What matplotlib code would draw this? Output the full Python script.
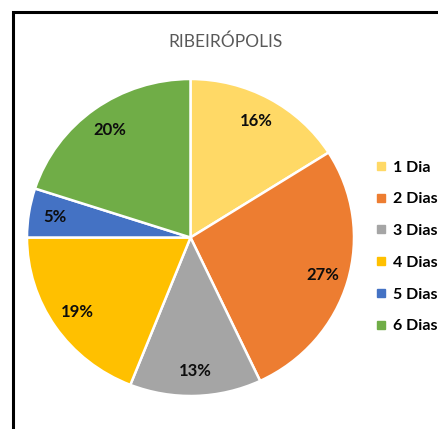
import matplotlib
matplotlib.use("Agg")
import matplotlib.pyplot as plt
from matplotlib.lines import Line2D
from matplotlib.patches import Rectangle

plt.rcParams['font.family'] = ['Lato', 'DejaVu Sans']

title = "RIBEIRÓPOLIS"
labels = ["1 Dia", "2 Dias", "3 Dias", "4 Dias", "5 Dias", "6 Dias"]
values = [16, 27, 13, 19, 5, 20]
colors = ["#FFD966", "#ED7D31", "#A5A5A5", "#FFC000", "#4472C4", "#70AD47"]

W, H = 438, 429
fig = plt.figure(figsize=(W / 100, H / 100), dpi=100)

# frame (only top and left edges visible, the rest is cut off)
fig.patches.append(Rectangle((12.5 / W, -0.1), 1.2, 1 - 12.5 / H + 0.1,
                             transform=fig.transFigure, fill=False,
                             edgecolor="black", linewidth=2.2))

# pie is slightly squashed in the source image
cx, cy, rx, ry = 190.5, 237.5, 163.5, 158.5
ax = fig.add_axes([(cx - rx) / W, (H - cy - ry) / H, 2 * rx / W, 2 * ry / H])
wedges, texts, autotexts = ax.pie(
    values, colors=colors, startangle=90, counterclock=False,
    autopct="%d%%", pctdistance=0.84,
    wedgeprops=dict(edgecolor="white", linewidth=1.8),
    textprops=dict(fontsize=12, fontweight="bold", color="#0d0d0d"))
ax.set_xlim(-1, 1)
ax.set_ylim(-1, 1)
ax.set_aspect("auto")

fig.text(226 / W, 1 - 42 / H, title, ha="center", va="center",
         fontsize=12.5, color="#595959")

handles = [Line2D([], [], marker="s", linestyle="none", markersize=5.5,
                  markerfacecolor=c, markeredgecolor=c) for c in colors]
fig.legend(handles, labels, loc="upper left",
           bbox_to_anchor=(368 / W, 1 - 154 / H), frameon=False,
           prop=dict(size=11.5, weight="bold"), labelspacing=1.1,
           handlelength=0.8, handletextpad=0.35, borderaxespad=0)

fig.savefig("out.png", dpi=100)
